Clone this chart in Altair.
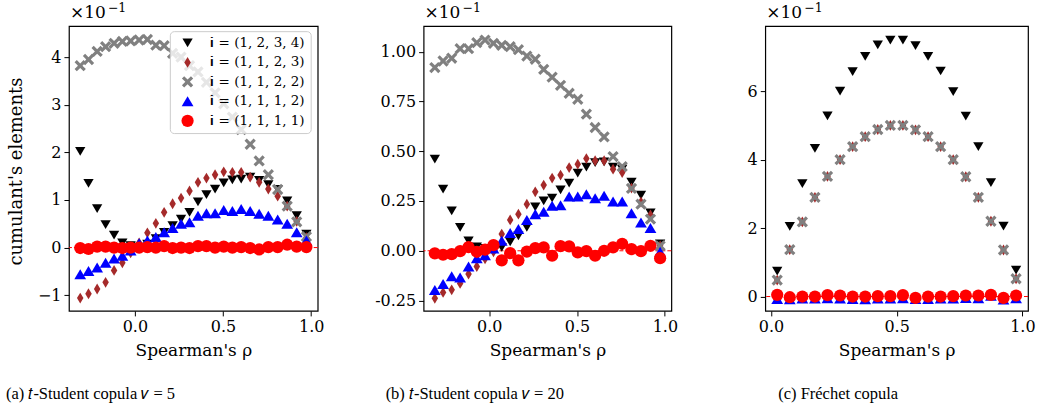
import altair as alt
import pandas as pd

# ---- series (legend order = drawing order) ----
SERIES = ["𝐢 = (1, 2, 3, 4)", "𝐢 = (1, 1, 2, 3)", "𝐢 = (1, 1, 2, 2)",
          "𝐢 = (1, 1, 1, 2)", "𝐢 = (1, 1, 1, 1)"]
COLORS = ["#000000", "#a52a2a", "#808080", "#0000ff", "#ff0000"]
SHAPES = [
    "M-1,-0.85L1,-0.85L0,0.85Z",                      # triangle down
    "M0,-1L0.6,0L0,1L-0.6,0Z",                        # thin diamond
    "M-1,-0.6L-0.6,-1L0,-0.4L0.6,-1L1,-0.6L0.4,0L1,0.6L0.6,1L0,0.4L-0.6,1L-1,0.6L-0.4,0Z",  # filled x
    "M-1,0.85L1,0.85L0,-0.85Z",                       # triangle up
    "circle",
]
SIZES = [106, 150, 64, 106, 66]

# ---- (a) t-Student copula, nu = 5   (values in units of 1e-1) ----
rho_t = [-0.310, -0.263, -0.214, -0.166, -0.118, -0.071, -0.024, 0.024, 0.071,
         0.119, 0.166, 0.214, 0.262, 0.310, 0.358, 0.406, 0.455, 0.504, 0.553,
         0.603, 0.654, 0.705, 0.757, 0.810, 0.864, 0.918, 0.973]

a_1234 = [2.02, 1.35, 0.82, 0.48, 0.26, 0.10, 0.04, 0.01, 0.07, 0.19, 0.32, 0.46,
          0.60, 0.74, 0.96, 1.11, 1.23, 1.36, 1.42, 1.44, 1.48, 1.41, 1.32, 1.22,
          0.98, 0.67, 0.28]
a_1123 = [-1.06, -0.97, -0.87, -0.73, -0.48, -0.32, -0.11, 0.10, 0.31, 0.51, 0.74,
          0.92, 1.04, 1.19, 1.37, 1.46, 1.53, 1.59, 1.58, 1.58, 1.48, 1.37, 1.23,
          1.08, 0.87, 0.55, 0.21]
a_1122 = [3.82, 3.95, 4.12, 4.22, 4.29, 4.33, 4.34, 4.36, 4.37, 4.25, 4.24, 4.08,
          4.00, 3.82, 3.69, 3.47, 3.25, 3.02, 2.74, 2.48, 2.17, 1.82, 1.53, 1.22,
          0.87, 0.54, 0.23]
a_1112 = [-0.56, -0.49, -0.42, -0.32, -0.23, -0.17, -0.06, 0.09, 0.15, 0.22, 0.32,
          0.41, 0.50, 0.53, 0.67, 0.72, 0.72, 0.79, 0.77, 0.81, 0.77, 0.71, 0.67,
          0.59, 0.50, 0.32, 0.15]
a_1111 = [-0.01, -0.03, 0.02, 0.02, 0.00, -0.01, 0.00, 0.00, 0.01, 0.00, 0.03,
          -0.01, 0.00, -0.01, 0.03, 0.03, 0.00, 0.02, 0.00, 0.01, -0.01, -0.04,
          0.01, 0.01, 0.06, 0.02, 0.01]

# ---- (b) t-Student copula, nu = 20 ----
b_1234 = [0.46, 0.31, 0.20, 0.117, 0.05, 0.02, 0.012, -0.003, 0.017, 0.045, 0.075,
          0.117, 0.22, 0.25, 0.265, 0.306, 0.34, 0.39, 0.42, 0.443, 0.446, 0.42,
          0.41, 0.345, 0.28, 0.19, 0.035]
b_1123 = [-0.239, -0.209, -0.196, -0.164, -0.117, -0.079, -0.04, -0.005, 0.084,
          0.155, 0.184, 0.234, 0.296, 0.33, 0.365, 0.38, 0.418, 0.435, 0.463, 0.452,
          0.452, 0.41, 0.393, 0.315, 0.245, 0.18, 0.025]
b_1122 = [0.92, 0.953, 0.967, 1.015, 1.015, 1.045, 1.058, 1.042, 1.032, 1.025, 1.01,
          0.978, 0.962, 0.911, 0.872, 0.831, 0.791, 0.761, 0.686, 0.619, 0.572,
          0.473, 0.423, 0.313, 0.234, 0.159, 0.025]
b_1112 = [-0.197, -0.167, -0.128, -0.134, -0.079, -0.037, -0.022, 0.012, 0.05,
          0.089, 0.109, 0.154, 0.184, 0.196, 0.226, 0.229, 0.273, 0.273, 0.284,
          0.264, 0.276, 0.247, 0.247, 0.189, 0.142, 0.114, -0.005]
b_1111 = [-0.013, -0.02, -0.017, -0.002, 0.018, -0.005, 0.006, 0.028, -0.048,
          -0.012, -0.048, -0.004, 0.013, 0.017, -0.025, 0.023, 0.022, -0.008,
          -0.002, -0.025, 0.0, 0.017, 0.035, 0.008, -0.002, 0.025, -0.037]

# ---- (c) Frechet copula ----
rho_f = [0.025, 0.075, 0.125, 0.175, 0.225, 0.275, 0.325, 0.375, 0.425, 0.475,
         0.525, 0.575, 0.625, 0.675, 0.725, 0.775, 0.825, 0.875, 0.925, 0.975]
c_1234 = [0.74, 2.05, 3.30, 4.33, 5.28, 6.00, 6.57, 7.02, 7.35, 7.49, 7.49, 7.33,
          7.02, 6.59, 5.99, 5.27, 4.38, 3.33, 2.06, 0.77]
c_1123 = [0.48, 1.37, 2.18, 2.90, 3.51, 4.00, 4.38, 4.67, 4.88, 5.00, 5.00, 4.87,
          4.67, 4.38, 4.00, 3.50, 2.90, 2.20, 1.36, 0.52]
c_1122 = [0.48, 1.37, 2.18, 2.90, 3.51, 4.00, 4.38, 4.67, 4.88, 5.00, 5.00, 4.87,
          4.67, 4.38, 4.00, 3.50, 2.90, 2.20, 1.36, 0.52]
c_1112 = [-0.07, -0.08, -0.06, -0.06, -0.05, -0.06, -0.07, -0.08, -0.06, -0.06,
          -0.05, -0.07, -0.07, -0.06, -0.06, -0.04, -0.05, 0.02, -0.09, -0.05]
c_1111 = [0.05, -0.02, 0.00, 0.00, 0.04, 0.03, 0.00, 0.00, 0.01, 0.01, 0.04, -0.04,
          0.00, 0.00, 0.01, 0.03, 0.03, 0.05, -0.04, 0.03]

X_TICKS = [0.0, 0.5, 1.0]
Y_TICKS_A = [-1, 0, 1, 2, 3, 4]
Y_TICKS_B = [-0.25, 0.0, 0.25, 0.5, 0.75, 1.0]
Y_TICKS_C = [0, 2, 4, 6]

CAPTIONS = ["(a) 𝑡-Student copula 𝜈 = 5", "(b) 𝑡-Student copula 𝜈 = 20",
            "(c) Fréchet copula"]
SCALE_BASE, SCALE_EXP = "×10", "−1"

SERIF = "DejaVu Serif"
H = 285


def long_frame(rho, cols):
    rows = []
    for k, (name, vals) in enumerate(zip(SERIES, cols)):
        for r, v in zip(rho, vals):
            rows.append({"rho": r, "value": v, "series": name, "k": k})
    return pd.DataFrame(rows)


def label(text, x, y, size, font=SERIF, align="left"):
    return alt.Chart(pd.DataFrame({"t": [text]})).mark_text(
        align=align, baseline="middle", font=font, fontSize=size, color="#000000"
    ).encode(text="t:N", x=alt.value(x), y=alt.value(y))


def panel(rho, cols, xdom, ydom, yticks, yfmt, width, caption, cap_x,
          ytitle=None, legend=False, hyphen=False):
    df = long_frame(rho, cols)
    yscale = alt.Scale(domain=ydom, nice=False, zero=False)
    xscale = alt.Scale(domain=xdom, nice=False, zero=False)

    yaxis_kw = dict(values=yticks, format=yfmt, tickSize=5, labelPadding=3)
    if hyphen:
        yaxis_kw["labelExpr"] = "replace(datum.label, '\u2212', '-')"
    if ytitle:
        yaxis = alt.Axis(title=ytitle, titleX=-43, titleY=145, titleFontSize=18,
                         **yaxis_kw)
    else:
        yaxis = alt.Axis(title=None, **yaxis_kw)

    if legend:
        leg = alt.Legend(title=None, orient="none", legendX=101, legendY=5,
                         fillColor="rgba(255,255,255,0.8)", strokeColor="#cccccc",
                         cornerRadius=4, padding=5, symbolSize=80, symbolOffset=6,
                         labelFont=SERIF, labelFontSize=13.5, labelColor="#000000",
                         rowPadding=4.5, labelOffset=16, symbolStrokeWidth=0,
                         labelLimit=200)
    else:
        leg = None

    zero = alt.Chart(pd.DataFrame({"value": [0.0]})).mark_rule(
        color="#ff0000", strokeDash=[4, 2], strokeWidth=1
    ).encode(y=alt.Y("value:Q", scale=yscale, axis=yaxis))

    pts = alt.Chart(df).mark_point(filled=True, opacity=1, strokeWidth=0).encode(
        x=alt.X("rho:Q", scale=xscale,
                axis=alt.Axis(values=X_TICKS, format=".1f", title="Spearman's ρ",
                              tickSize=5, labelPadding=3, titlePadding=8)),
        y=alt.Y("value:Q", scale=yscale, axis=yaxis),
        color=alt.Color("series:N", scale=alt.Scale(domain=SERIES, range=COLORS),
                        legend=leg),
        shape=alt.Shape("series:N", scale=alt.Scale(domain=SERIES, range=SHAPES),
                        legend=leg),
        size=alt.Size("series:N", scale=alt.Scale(domain=SERIES, range=SIZES),
                      legend=None),
        order=alt.Order("k:Q"),
    )

    base_note = label(SCALE_BASE, 1, -13, 17)
    exp_note = label(SCALE_EXP, 39, -18.5, 12.5)
    cap = label(caption, cap_x, 368, 16.5, font="Liberation Serif")

    return alt.layer(zero, pts, base_note, exp_note, cap).properties(
        width=width, height=H,
        view=alt.ViewBackground(stroke="#000000", strokeWidth=1.2, fill="white"),
    )


def spacer(w):
    return alt.Chart(pd.DataFrame({"t": [""]})).mark_text().encode(
        text="t:N", x=alt.value(0), y=alt.value(0)
    ).properties(width=w, height=H, view=alt.ViewBackground(stroke="transparent"))


pa = panel(rho_t, [a_1234, a_1123, a_1122, a_1112, a_1111], [-0.374, 1.037],
           [-1.33, 4.65], Y_TICKS_A, "d", 249, CAPTIONS[0], -63,
           ytitle="cumulant's elements", legend=True)
pb = panel(rho_t, [b_1234, b_1123, b_1122, b_1112, b_1111], [-0.374, 1.037],
           [-0.302, 1.128], Y_TICKS_B, ".2f", 248, CAPTIONS[1], -38, hyphen=True)
pc = panel(rho_f, [c_1234, c_1123, c_1122, c_1112, c_1111], [-0.0225, 1.0225],
           [-0.42, 7.9], Y_TICKS_C, "d", 263, CAPTIONS[2], 13)

chart = alt.hconcat(pa, spacer(106), pb, spacer(94), pc, spacing=0, bounds="flush"
).resolve_scale(color="independent", shape="independent", size="independent"
).properties(
    padding={"left": 5, "top": 0, "right": 5, "bottom": 5}
).configure(
    font=SERIF
).configure_axis(
    labelFont=SERIF, labelFontSize=16, labelColor="#000000",
    titleFont=SERIF, titleFontSize=17, titleFontWeight="normal", titleColor="#000000",
    tickColor="#000000", tickWidth=1, domain=False, grid=False,
)

chart.save("out.html", embed_options={"renderer": "svg", "actions": False})
